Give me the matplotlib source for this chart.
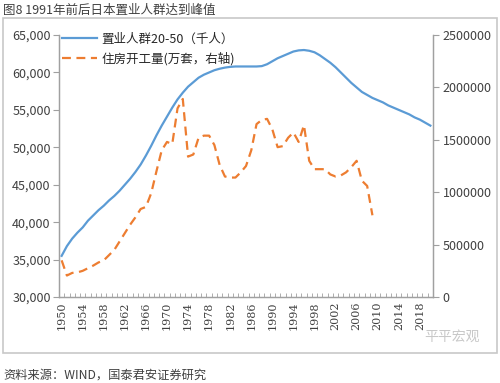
import numpy as np
import matplotlib
matplotlib.use("Agg")
import matplotlib.pyplot as plt
from matplotlib.patches import Rectangle
from matplotlib.ticker import FuncFormatter, MultipleLocator

plt.rcParams['font.family'] = ['Noto Sans CJK SC', 'DejaVu Sans']

# 年份
years = list(range(1950, 2021))

# 置业人群20-50（千人），左轴
buyers = [35500, 36800, 37800, 38600, 39300, 40200, 40900, 41600, 42200, 42900,
          43500, 44200, 45000, 45800, 46700, 47700, 48900, 50200, 51600, 52900,
          54100, 55300, 56400, 57300, 58100, 58700, 59300, 59700, 60000, 60300,
          60500, 60650, 60750, 60800, 60800, 60800, 60800, 60800, 60850, 61100,
          61500, 61900, 62200, 62500, 62800, 62950, 63000, 62900, 62700, 62300,
          61800, 61300, 60700, 60000, 59300, 58600, 58000, 57400, 57000, 56600,
          56300, 56000, 55600, 55300, 55000, 54700, 54400, 54000, 53700, 53300,
          52900]

# 住房开工量（右轴），1950-2009
starts_years = list(range(1950, 2010))
starts = [350000, 205000, 230000, 235000, 250000, 275000, 300000, 330000, 350000, 400000,
          450000, 530000, 610000, 690000, 760000, 840000, 860000, 990000, 1200000, 1400000,
          1480000, 1460000, 1800000, 1890000, 1340000, 1360000, 1520000, 1540000, 1540000, 1450000,
          1260000, 1150000, 1140000, 1140000, 1190000, 1250000, 1400000, 1650000, 1690000, 1700000,
          1600000, 1430000, 1440000, 1520000, 1570000, 1480000, 1640000, 1300000, 1220000, 1220000,
          1220000, 1170000, 1150000, 1160000, 1190000, 1240000, 1300000, 1110000, 1060000, 780000]

xticks = list(range(1950, 2019, 4))

fig = plt.figure(figsize=(5.0, 3.83), dpi=100)
fig.patch.set_facecolor('white')

# 外框
fig.patches.append(Rectangle((0.006, 0.078), 0.988, 0.875, transform=fig.transFigure,
                             fill=False, edgecolor='#c8c8c8', linewidth=1.2))

ax = fig.add_axes([0.118, 0.2245, 0.748, 0.684])
ax2 = ax.twinx()

l1, = ax.plot(years, buyers, color='#5B9BD5', linewidth=1.6, label='置业人群20-50（千人）')
l2, = ax2.plot(starts_years, starts, color='#ED7D31', linewidth=1.6,
               dashes=(4, 2.5), label='住房开工量(万套，右轴)')

ax.set_xlim(1949.5, 2020.5)
ax.set_ylim(30000, 65000)
ax2.set_ylim(0, 2500000)

ax.yaxis.set_major_locator(MultipleLocator(5000))
ax.yaxis.set_major_formatter(FuncFormatter(lambda v, p: f"{int(v):,}"))
ax2.yaxis.set_major_locator(MultipleLocator(500000))
ax2.yaxis.set_major_formatter(FuncFormatter(lambda v, p: f"{int(v)}"))

ax.set_xticks(xticks)
ax.set_xticklabels([str(y) for y in xticks], rotation=90, family='DejaVu Serif',
                   fontsize=8, color='#404040')
ax.set_xticks(np.arange(1949.5, 2021, 1), minor=True)
ax.tick_params(axis='x', which='major', length=0, pad=3)
ax.tick_params(axis='x', which='minor', length=3, direction='in', color='#a0a0a0')

ax.tick_params(axis='y', length=4, color='#a0a0a0', labelsize=9, labelcolor='#404040', pad=2)
ax2.tick_params(axis='y', length=4, color='#a0a0a0', labelsize=9, labelcolor='#404040', pad=3)

for a in (ax, ax2):
    a.spines['top'].set_visible(False)
    for s in ('left', 'right', 'bottom'):
        a.spines[s].set_color('#a0a0a0')
        a.spines[s].set_linewidth(0.9)

ax.legend(handles=[l1, l2], loc='upper left', bbox_to_anchor=(0.0, 1.02), frameon=False,
          fontsize=9, handlelength=2.8, handletextpad=0.4, labelspacing=0.5,
          borderaxespad=0.0, borderpad=0.2, labelcolor='#262626')
ax.set_zorder(ax2.get_zorder() + 1)
ax.patch.set_visible(False)

fig.text(0.006, 0.974, '图8 1991年前后日本置业人群达到峰值', fontsize=9,
         color='#404040', va='center', ha='left')
fig.text(0.006, 0.022, '资料来源：WIND，国泰君安证券研究', fontsize=8.8,
         color='#404040', va='center', ha='left')
fig.text(0.96, 0.122, '平平宏观', fontsize=10, color='#c8c8c8', va='center', ha='right')

fig.savefig('out.png', dpi=100)
